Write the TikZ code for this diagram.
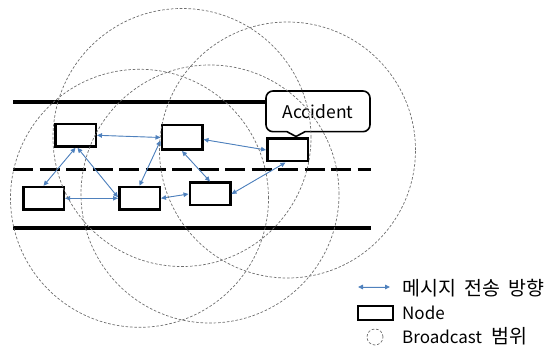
\documentclass[tikz,border=0pt]{standalone}
\usepackage{fontspec}
\setmainfont{Noto Sans CJK KR}
\usetikzlibrary{arrows.meta}
\definecolor{msgblue}{RGB}{79,129,189}
\definecolor{rangegray}{RGB}{110,110,110}
\newcommand{\kotext}[1]{{\fontsize{19.5}{20}\selectfont #1}}
\tikzset{
  road/.style={line width=4pt},
  lane/.style={line width=2.7pt, dash pattern=on 20pt off 6.5pt},
  carbox/.style={draw, line width=2.5pt, minimum width=40.5pt, minimum height=22.5pt, inner sep=0pt},
  msg/.style={{Triangle[length=5pt,width=4.5pt]}-{Triangle[length=5pt,width=4.5pt]}, draw=msgblue, fill=msgblue, line width=0.9pt},
  bcast/.style={draw=rangegray, line width=0.7pt, dash pattern=on 2.6pt off 1.8pt},
  callbox/.style={draw, line width=1.6pt, fill=white},
  lbl/.style={anchor=west, inner sep=0pt, font=\fontsize{17}{20}\selectfont},
}
\begin{document}
\begin{tikzpicture}[x=1pt,y=-1pt]
\useasboundingbox (0,0) rectangle (558,347);
% road
\coordinate (r1a) at (13,101.7); \coordinate (r1b) at (371,101.7);
\coordinate (r2a) at (13,169.3); \coordinate (r2b) at (371,169.3);
\coordinate (r3a) at (13,228.3); \coordinate (r3b) at (371,228.3);
\draw[road] (r1a) -- (r1b);
\draw[lane] (r2a) -- (r2b);
\draw[road] (r3a) -- (r3b);
% callout
\draw[callbox] (287,131.7) -- (296,136.5) -- (305,131.7) [rounded corners=7pt] -- (370,131.7) -- (370,91) -- (266,91) -- (266,131.7) -- (280,131.7) [sharp corners] -- cycle;
\node[inner sep=0pt, font=\fontsize{17.5}{20}\selectfont] (acc) at (318,111.5) {Accident};
% nodes
\node[carbox] (A) at (75.5,135.3) {};
\node[carbox, minimum height=24.5pt] (B) at (182,137.5) {};
\node[carbox] (C) at (287.5,150) {};
\node[carbox] (D) at (43.5,198.3) {};
\node[carbox] (E) at (139.5,198.3) {};
\node[carbox] (F) at (210,194) {};
% messages
\draw[msg] (A.east) -- (B.west);
\draw[msg] ([yshift=-2pt]B.east) -- (C.west);
\draw[msg] (A.south) -- (D.north);
\draw[msg] ([xshift=2pt]A.south) -- ([yshift=1pt]E.west);
\draw[msg] (D.east) -- (E.west);
\draw[msg] ([yshift=-3pt]B.west) -- (E.north);
\draw[msg] (B.south) -- (F.north);
\draw[msg] (E.east) -- (F.west);
\draw[msg] (F.east) -- ([xshift=-2pt]C.south);
% broadcast ranges
\draw[bcast] (B.center) circle[radius=129pt];
\draw[bcast] (C.center) circle[radius=128pt];
\draw[bcast] (E.center) circle[radius=129pt];
\draw[bcast] (F.center) circle[radius=129pt];
% legend
\coordinate (la1) at (358,287); \coordinate (la2) at (390,287);
\draw[msg] (la1) -- (la2);
\node[lbl] (t1) at (402,288) {\kotext{메시지\hspace{8.5pt}전송\hspace{8.5pt}방향}};
\node[carbox, minimum width=35pt, minimum height=14pt] (ln) at (375.5,313) {};
\node[lbl] (t2) at (402,313) {Node};
\node[bcast, circle, minimum size=16pt, inner sep=0pt] (lc) at (375,337) {};
\node[lbl] (t3) at (402,336) {Broadcast\hspace{10pt}\kotext{범위}};
\end{tikzpicture}
\end{document}
